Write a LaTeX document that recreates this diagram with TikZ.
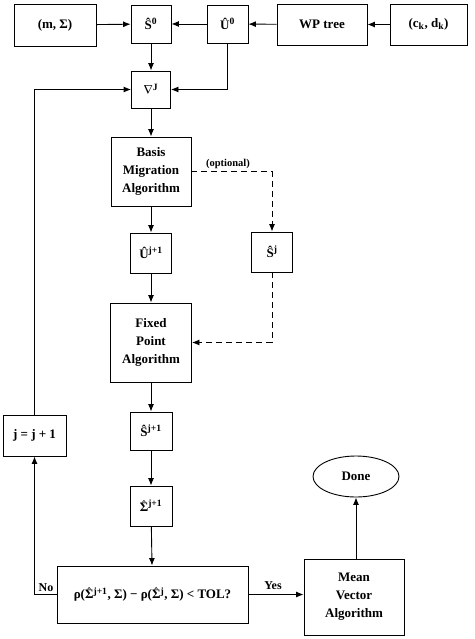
\documentclass[tikz,border=0pt]{standalone}
\usepackage{mathptmx}
\usepackage{fontspec}
\setmainfont{Liberation Serif}
\usetikzlibrary{arrows.meta,shapes.geometric}
\newcommand{\sps}[1]{\textsuperscript{#1}}
\newcommand{\hsig}{$\hat{\mbox{\bfseries Σ}}$}
\begin{document}
\begin{tikzpicture}[x=1pt,y=-1pt,
  box/.style={draw, line width=0.9pt, inner sep=0pt, align=center, font=\fontsize{13}{18}\selectfont\bfseries},
  arr/.style={line width=0.9pt, -{Latex[length=7.5pt,width=6pt]}},
  dsh/.style={arr, dash pattern=on 6pt off 4pt},
  lbl/.style={font=\fontsize{12}{14}\selectfont\bfseries, inner sep=0pt}]
\useasboundingbox (0,0) rectangle (474,639);
\node[box, minimum width=82pt, minimum height=42pt] (ms) at (55,25) {(m, Σ)};
\node[box, minimum width=40pt, minimum height=38pt] (s0) at (151,24) {Ŝ\sps{0}};
\node[box, minimum width=41pt, minimum height=38pt] (u0) at (227.5,24) {Û\sps{0}};
\node[box, minimum width=90pt, minimum height=41pt] (wp) at (322,24.5) {WP tree};
\node[box, minimum width=77pt, minimum height=41pt] (ck) at (428.5,24.5) {(c\textsubscript{k}, d\textsubscript{k})};
\node[box, minimum width=39pt, minimum height=37pt] (nab) at (151,89.5) {$\nabla$\sps{J}};
\node[box, minimum width=80pt, minimum height=69pt] (bma) at (151,171.5) {Basis\\Migration\\Algorithm};
\node[box, minimum width=41pt, minimum height=40pt] (uj1) at (151,253) {Û\sps{j+1}};
\node[box, minimum width=41pt, minimum height=40pt] (sj) at (272,252) {Ŝ\sps{j}};
\node[box, minimum width=81pt, minimum height=79pt] (fpa) at (151,342.5) {Fixed\\Point\\Algorithm};
\node[box, minimum width=42pt, minimum height=38pt] (sj1) at (151,431) {Ŝ\sps{j+1}};
\node[box, minimum width=42pt, minimum height=40pt] (sig) at (151,506) {\hsig\sps{j+1}};
\node[box, minimum width=63pt, minimum height=41pt] (jj) at (34.5,435.5) {j = j + 1};
\node[box, minimum width=191pt, minimum height=57pt] (dec) at (152.5,594.5) {ρ(\hsig\sps{j+1}, Σ) − ρ(\hsig\sps{j}, Σ) < TOL?};
\node[box, minimum width=100pt, minimum height=76pt] (mva) at (354,597) {Mean\\Vector\\Algorithm};
\node[box, ellipse, minimum width=86pt, minimum height=41pt] (done) at (356,476.5) {Done};
% top row
\draw[arr] (ms) -- (s0);
\draw[arr] (u0) -- (s0);
\draw[arr] (wp) -- (u0);
\draw[arr] (ck) -- (wp);
\draw[arr] (s0) -- (nab);
\draw[arr] (u0.south) |- (nab.east);
% main column
\draw[arr] (nab) -- (bma);
\draw[arr] (bma) -- (uj1);
\draw[arr] (uj1) -- (fpa);
\draw[arr] (fpa) -- (sj1);
\draw[arr] (sj1) -- (sig);
\draw[arr] (sig) -- (dec);
% optional
\draw[dsh] (bma.east) -| (sj.north);
\draw[dsh] (sj.south) |- (fpa.east);
\node[lbl, font=\fontsize{10.5}{12}\selectfont\bfseries] (opt) at (228,164) {(optional)};
% loop
\draw[arr] (dec.west) -| (jj.south);
\draw[arr] (jj.north) |- (nab.west);
\node[lbl] (no) at (46,588) {No};
% yes
\draw[arr] (dec.east) -- (dec.east -| mva.west);
\node[lbl] (yes) at (273,586) {Yes};
\draw[arr] (done.south |- mva.north) -- (done.south);
\end{tikzpicture}
\end{document}
